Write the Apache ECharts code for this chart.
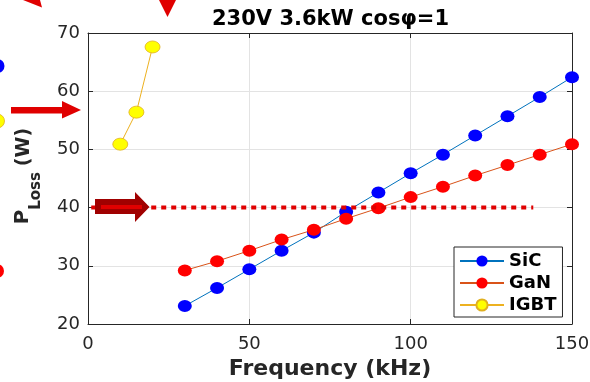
<!DOCTYPE html>
<html>
<head>
<meta charset="utf-8">
<script src="https://cdn.jsdelivr.net/npm/echarts@6/dist/echarts.min.js"></script>
<style>
  html, body { margin: 0; padding: 0; background: #fff; }
  #chart { width: 590px; height: 382px; }
</style>
</head>
<body>
<div id="chart"></div>
<script>
"use strict";

// switching frequency (kHz)
var freq = [30, 40, 50, 60, 70, 80, 90, 100, 110, 120, 130, 140, 150];
var sicLoss = [23.1, 26.2, 29.4, 32.6, 35.7, 39.3, 42.6, 45.9, 49.1, 52.4, 55.7, 59.0, 62.4];
var ganLoss = [29.2, 30.8, 32.6, 34.5, 36.2, 38.1, 39.9, 41.8, 43.6, 45.5, 47.3, 49.1, 50.9];
var igbtFreq = [10, 15, 20];
var igbtLoss = [50.9, 56.4, 67.6];
// 40 W limit line
var limitFreq = [1, 138];
var limitLoss = [40, 40];

var xTicks = [0, 50, 100, 150];
var yTicks = [20, 30, 40, 50, 60, 70];

function pairs(xs, ys) {
    return xs.map(function (x, i) { return [x, ys[i]]; });
}

var font = 'DejaVu Sans';
var dark = '#262626';

var chart = echarts.init(document.getElementById('chart'), null, { renderer: 'canvas' });

var axisCommon = {
    type: 'value',
    axisLine: { show: true, onZero: false, lineStyle: { color: dark, width: 1 } },
    axisTick: { show: true, inside: true, length: 5, lineStyle: { color: dark } }
};

chart.setOption({
    animation: false,
    backgroundColor: '#fff',
    title: {
        text: '230V 3.6kW cos\u03c6=1',
        left: 207,
        top: 4,
        textStyle: { fontFamily: font, fontWeight: 'bold', fontSize: 21, color: '#000' }
    },
    grid: { left: 88, top: 33, right: 18, bottom: 58, containLabel: false, outerBoundsMode: 'none' },
    legend: {
        orient: 'vertical',
        left: 454,
        top: 247,
        padding: [5, 6, 3, 5],
        itemGap: 4,
        itemWidth: 44,
        itemHeight: 14,
        backgroundColor: '#fff',
        borderColor: dark,
        borderWidth: 1,
        borderRadius: 0,
        data: ['SiC', 'GaN', 'IGBT'],
        textStyle: { fontFamily: font, fontWeight: 'bold', fontSize: 18, color: '#000', lineHeight: 18 }
    },
    xAxis: [
        Object.assign({}, axisCommon, {
            position: 'bottom',
            min: xTicks[0], max: xTicks[xTicks.length - 1], interval: 50,
            name: 'Frequency (kHz)',
            nameLocation: 'middle',
            nameGap: 33,
            nameTextStyle: { fontFamily: font, fontWeight: 'bold', fontSize: 22, color: dark },
            axisLabel: { margin: 11, fontFamily: font, fontSize: 18, color: dark },
            splitLine: { show: true, lineStyle: { color: '#e3e3e3', width: 1 } }
        }),
        Object.assign({}, axisCommon, {
            position: 'top',
            min: xTicks[0], max: xTicks[xTicks.length - 1], interval: 50,
            axisLabel: { show: false },
            splitLine: { show: false }
        })
    ],
    yAxis: [
        Object.assign({}, axisCommon, {
            position: 'left',
            min: yTicks[0], max: yTicks[yTicks.length - 1], interval: 10,
            axisLabel: { margin: 8, fontFamily: font, fontSize: 18, color: dark },
            splitLine: { show: true, lineStyle: { color: '#e3e3e3', width: 1 } }
        }),
        Object.assign({}, axisCommon, {
            position: 'right',
            min: yTicks[0], max: yTicks[yTicks.length - 1], interval: 10,
            axisLabel: { show: false },
            splitLine: { show: false }
        })
    ],
    series: [
        {
            name: 'SiC',
            type: 'line',
            data: pairs(freq, sicLoss),
            symbol: 'circle',
            symbolSize: [14, 12],
            lineStyle: { color: '#0072BD', width: 1 },
            itemStyle: { color: '#0000FF', borderWidth: 0 }
        },
        {
            name: 'GaN',
            type: 'line',
            data: pairs(freq, ganLoss),
            symbol: 'circle',
            symbolSize: [14, 12],
            lineStyle: { color: '#D95319', width: 1 },
            itemStyle: { color: '#FF0000', borderWidth: 0 }
        },
        {
            name: 'IGBT',
            type: 'line',
            data: pairs(igbtFreq, igbtLoss),
            symbol: 'circle',
            symbolSize: [15, 12],
            lineStyle: { color: '#EDB120', width: 1 },
            itemStyle: { color: '#FFFF00', borderColor: '#E0B020', borderWidth: 0.8 }
        },
        {
            name: 'limit',
            type: 'line',
            data: pairs(limitFreq, limitLoss),
            symbol: 'none',
            z: 5,
            lineStyle: { color: '#E00000', width: 4, type: [5, 5] }
        }
    ],
    graphic: [
        // annotation arrows and clipped marks around the plot
        { type: 'polygon', shape: { points: [[95, 199], [135, 199], [135, 192], [149.5, 207], [135, 222], [135, 214], [95, 214]] }, style: { fill: '#A00000' }, z: 100 },
        { type: 'rect', shape: { x: 101, y: 205, width: 41, height: 4 }, style: { fill: '#E00000' }, z: 101 },
        { type: 'polygon', shape: { points: [[11, 107], [62, 107], [62, 101], [81, 110], [62, 118.5], [62, 113.5], [11, 113.5]] }, style: { fill: '#E00000' }, z: 100 },
        { type: 'polygon', shape: { points: [[159, 0], [176, 0], [167.5, 17]] }, style: { fill: '#E00000' }, z: 100 },
        { type: 'polygon', shape: { points: [[23, 0], [40, 0], [42, 7.5]] }, style: { fill: '#E00000' }, z: 100 },
        { type: 'circle', shape: { cx: -2.5, cy: 66, r: 7 }, style: { fill: '#0000FF' }, z: 100 },
        { type: 'circle', shape: { cx: -2.5, cy: 121, r: 7 }, style: { fill: '#FFFF00', stroke: '#E0B020', lineWidth: 0.8 }, z: 100 },
        { type: 'circle', shape: { cx: -3, cy: 271, r: 7 }, style: { fill: '#FF0000' }, z: 100 },
        // y axis title P_Loss (W)
        { type: 'text', x: 33, y: 217, rotation: Math.PI / 2, style: { text: 'P', fontFamily: font, fontWeight: 'bold', fontSize: 20, fill: dark, align: 'center', verticalAlign: 'bottom' }, z: 100 },
        { type: 'text', x: 44, y: 191, rotation: Math.PI / 2, style: { text: 'Loss', fontFamily: font, fontWeight: 'bold', fontSize: 15, fill: dark, align: 'center', verticalAlign: 'bottom' }, z: 100 },
        { type: 'text', x: 34, y: 147, rotation: Math.PI / 2, style: { text: '(W)', fontFamily: font, fontWeight: 'bold', fontSize: 19, fill: dark, align: 'center', verticalAlign: 'bottom' }, z: 100 }
    ]
});
</script>
</body>
</html>
